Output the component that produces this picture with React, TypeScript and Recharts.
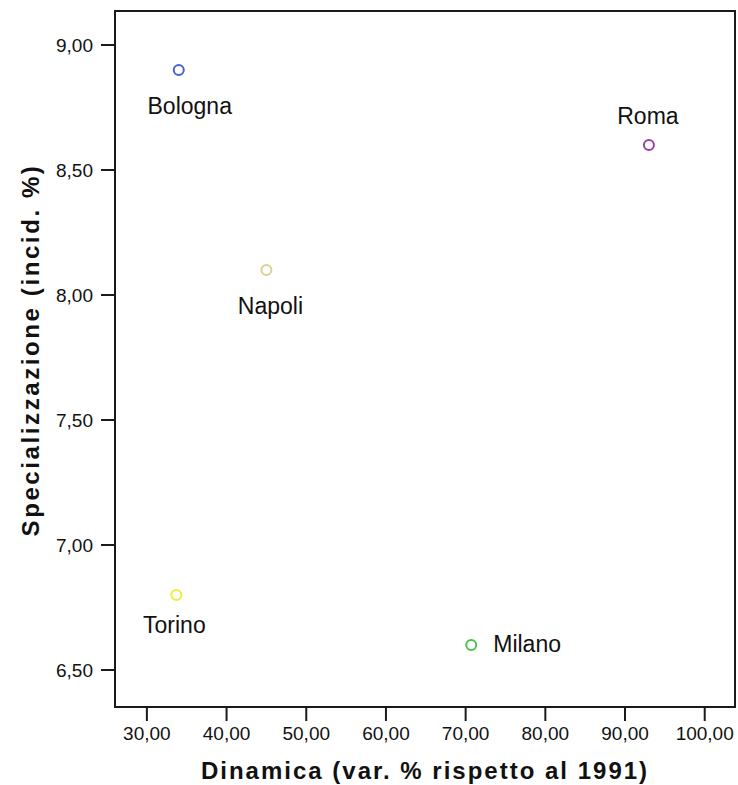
import React from 'react';
import { ScatterChart, Scatter, XAxis, YAxis, Label, ReferenceArea } from 'recharts';

const cities = ['Bologna', 'Roma', 'Napoli', 'Torino', 'Milano'];
const dinamica = [34.0, 93.0, 45.0, 33.7, 70.7];
const specializzazione = [8.9, 8.6, 8.1, 6.8, 6.6];
const cityColors = ['#4b63c8', '#9c3fa3', '#d6d292', '#eeee3a', '#4cc24c'];

const xTicks = [30, 40, 50, 60, 70, 80, 90, 100];
const yTicks = [6.5, 7.0, 7.5, 8.0, 8.5, 9.0];
const xDomain = [26, 103.8];
const yDomain = [6.352, 9.136];

// where each city name sits relative to its marker
const labelPlacement: Record<string, { dx: number; dy: number; anchor: 'start' | 'middle' }> = {
  Bologna: { dx: 11, dy: 44, anchor: 'middle' },
  Roma: { dx: -1, dy: -21, anchor: 'middle' },
  Napoli: { dx: 4, dy: 44, anchor: 'middle' },
  Torino: { dx: -2, dy: 38, anchor: 'middle' },
  Milano: { dx: 22, dy: 7, anchor: 'start' },
};

const data = cities.map((name, i) => ({
  name,
  x: dinamica[i],
  y: specializzazione[i],
  color: cityColors[i],
}));

const FONT = '"Liberation Sans", Arial, sans-serif';
const AXIS = '#1a1a1a';
const fmt = (v: number) => v.toFixed(2).replace('.', ',');

const CityMarker = (props: any) => {
  const { cx, cy, payload } = props;
  const p = labelPlacement[payload.name];
  return (
    <g>
      <circle cx={cx} cy={cy} r={5} fill="#fff" stroke={payload.color} strokeWidth={2} />
      <text
        x={cx + p.dx}
        y={cy + p.dy}
        textAnchor={p.anchor}
        fontSize={23}
        fontFamily={FONT}
        fill="#111"
      >
        {payload.name}
      </text>
    </g>
  );
};

const XTitle = (props: any) => {
  const { x, y, width, height } = props.viewBox;
  return (
    <text
      x={x + width / 2}
      y={y + height - 6}
      textAnchor="middle"
      fontSize={24}
      fontWeight="bold"
      letterSpacing={2}
      fontFamily={FONT}
      fill="#111"
    >
      Dinamica (var. % rispetto al 1991)
    </text>
  );
};

const YTitle = (props: any) => {
  const { x, y, height } = props.viewBox;
  const cx = x + 39;
  const cy = y + height / 2 - 9;
  return (
    <text
      x={cx}
      y={cy}
      transform={`rotate(-90 ${cx} ${cy})`}
      textAnchor="middle"
      fontSize={24}
      fontWeight="bold"
      letterSpacing={2.6}
      fontFamily={FONT}
      fill="#111"
    >
      Specializzazione (incid. %)
    </text>
  );
};

export default function App() {
  const tickStyle = { fontSize: 19, fill: '#111', fontFamily: FONT };
  return (
    <div
      style={{
        position: 'absolute',
        left: 0,
        top: 0,
        width: 738,
        height: 785,
        background: '#fff',
        fontFamily: FONT,
      }}
    >
      <ScatterChart width={738} height={785} margin={{ top: 11, right: 3, bottom: 0, left: 0 }}>
        <XAxis
          type="number"
          dataKey="x"
          domain={xDomain}
          ticks={xTicks}
          tickFormatter={fmt}
          height={78}
          tickSize={14}
          tickMargin={6}
          tick={tickStyle}
          axisLine={{ stroke: AXIS, strokeWidth: 2 }}
          tickLine={{ stroke: AXIS, strokeWidth: 2 }}
          allowDataOverflow
        >
          <Label content={XTitle} />
        </XAxis>
        <YAxis
          type="number"
          dataKey="y"
          domain={yDomain}
          ticks={yTicks}
          tickFormatter={fmt}
          width={115}
          tickSize={14}
          tickMargin={8}
          tick={tickStyle}
          axisLine={{ stroke: AXIS, strokeWidth: 2 }}
          tickLine={{ stroke: AXIS, strokeWidth: 2 }}
          allowDataOverflow
        >
          <Label content={YTitle} />
        </YAxis>
        <ReferenceArea
          x1={xDomain[0]}
          x2={xDomain[1]}
          y1={yDomain[0]}
          y2={yDomain[1]}
          fill="none"
          fillOpacity={0}
          stroke={AXIS}
          strokeWidth={2}
          ifOverflow="visible"
        />
        <Scatter data={data} shape={CityMarker} isAnimationActive={false} />
      </ScatterChart>
    </div>
  );
}
